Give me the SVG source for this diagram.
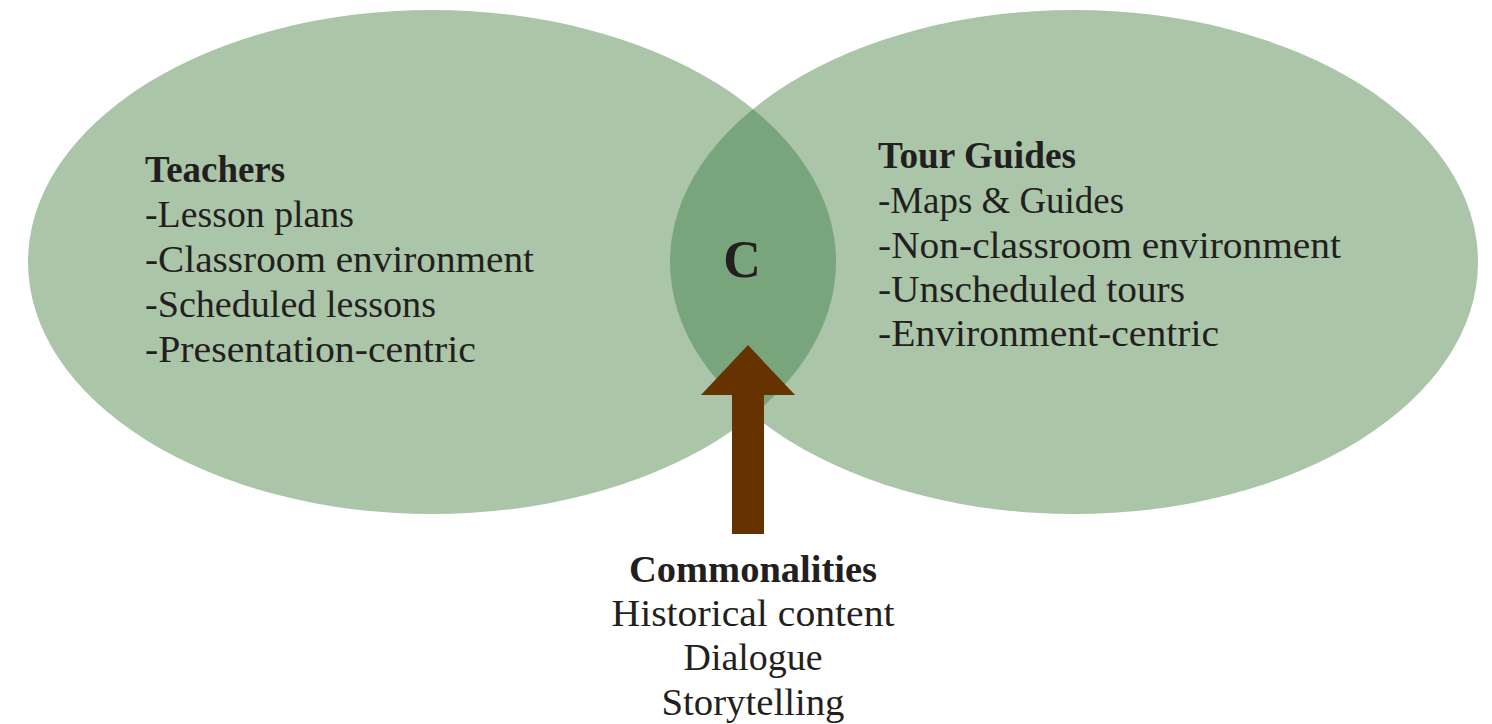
<svg xmlns="http://www.w3.org/2000/svg" width="1492" height="724" viewBox="0 0 1492 724">
<style>
.t{font-family:"Liberation Serif","Times New Roman",serif;font-size:38px;fill:#231f20}
.b{font-weight:bold}
.m{text-anchor:middle}
</style>
<defs>
<clipPath id="clipL"><ellipse cx="432" cy="262" rx="404" ry="252"/></clipPath>
</defs>
<rect width="1492" height="724" fill="#ffffff"/>
<g id="teachers">
<ellipse cx="432" cy="262" rx="404" ry="252" fill="#aac5a8"/>
</g>
<g id="tour-guides">
<ellipse cx="1074" cy="262" rx="404" ry="252" fill="#aac5a8"/>
</g>
<g id="overlap">
<ellipse cx="1074" cy="262" rx="404" ry="252" fill="#79a57c" clip-path="url(#clipL)"/>
<text class="t b m" x="742" y="277" font-size="52" style="font-size:52px">C</text>
</g>
<g id="connectors">
<polygon points="748,345 795,395 764,395 764,534 732,534 732,395 701,395" fill="#663300"/>
</g>
<g id="teachers-text">
<text class="t b" x="145" y="182" textLength="140" lengthAdjust="spacingAndGlyphs">Teachers</text>
<text class="t" x="145" y="227" textLength="209" lengthAdjust="spacingAndGlyphs">-Lesson plans</text>
<text class="t" x="145" y="272" textLength="389" lengthAdjust="spacingAndGlyphs">-Classroom environment</text>
<text class="t" x="145" y="317" textLength="291" lengthAdjust="spacingAndGlyphs">-Scheduled lessons</text>
<text class="t" x="145" y="362" textLength="331" lengthAdjust="spacingAndGlyphs">-Presentation-centric</text>
</g>
<g id="tour-guides-text">
<text class="t b" x="878" y="168" textLength="198" lengthAdjust="spacingAndGlyphs">Tour Guides</text>
<text class="t" x="878" y="213" textLength="246" lengthAdjust="spacingAndGlyphs">-Maps &amp; Guides</text>
<text class="t" x="878" y="258" textLength="463" lengthAdjust="spacingAndGlyphs">-Non-classroom environment</text>
<text class="t" x="878" y="302" textLength="307" lengthAdjust="spacingAndGlyphs">-Unscheduled tours</text>
<text class="t" x="878" y="346" textLength="341" lengthAdjust="spacingAndGlyphs">-Environment-centric</text>
</g>
<g id="commonalities">
<text class="t b m" x="753" y="582" textLength="248" lengthAdjust="spacingAndGlyphs">Commonalities</text>
<text class="t m" x="753" y="626" textLength="283" lengthAdjust="spacingAndGlyphs">Historical content</text>
<text class="t m" x="753" y="670" textLength="139" lengthAdjust="spacingAndGlyphs">Dialogue</text>
<text class="t m" x="753" y="715" textLength="183" lengthAdjust="spacingAndGlyphs">Storytelling</text>
</g>
</svg>
